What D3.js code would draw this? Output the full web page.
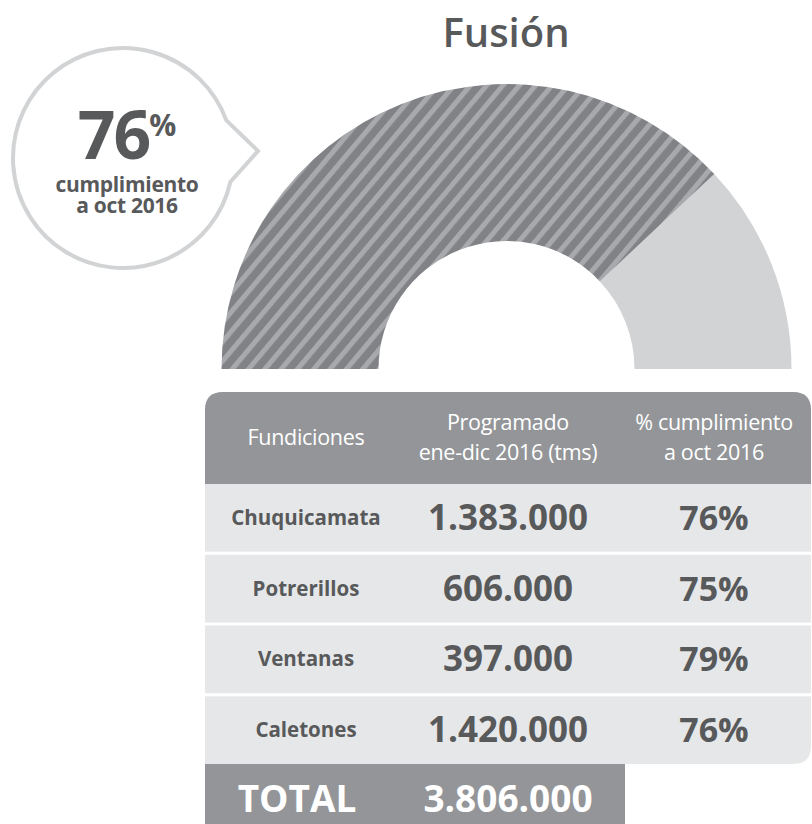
<!DOCTYPE html>
<html>
<head>
<meta charset="utf-8">
<script src="https://cdn.jsdelivr.net/npm/d3@7"></script>
<style>
  body { margin: 0; background: #fff; }
  svg { display: block; font-family: "Open Sans", sans-serif; }
</style>
</head>
<body>
<div id="chart"></div>
<script>

// data
var title = "Fusión";
var avance = 76;                       // % cumplimiento total
var bubbleLines = ["cumplimiento", "a oct 2016"];
var headers = [["Fundiciones"], ["Programado", "ene-dic 2016 (tms)"], ["% cumplimiento", "a oct 2016"]];
var fundiciones = ["Chuquicamata", "Potrerillos", "Ventanas", "Caletones"];
var programado = [1383000, 606000, 397000, 1420000];
var cumplimiento = [76, 75, 79, 76];
var totalLabel = "TOTAL";

var width = 812, height = 824;
var dark = "#58595b";

var locale = d3.formatLocale({decimal: ",", thousands: ".", grouping: [3], currency: ["$", ""]});
var fmt = locale.format(",");

var svg = d3.select("#chart").append("svg")
    .attr("width", width)
    .attr("height", height);

// stripe pattern
var pat = svg.append("defs").append("pattern")
    .attr("id", "stripes")
    .attr("patternUnits", "userSpaceOnUse")
    .attr("width", 12.5).attr("height", 12.5)
    .attr("patternTransform", "rotate(40)");
pat.append("rect").attr("width", 12.5).attr("height", 12.5).attr("fill", "#808285");
pat.append("rect").attr("width", 5).attr("height", 12.5).attr("fill", "#a7a9ac");

// title
svg.append("text")
    .attr("x", 506).attr("y", 47)
    .attr("text-anchor", "middle")
    .style("font-size", "40px")
    .style("font-weight", 600)
    .attr("fill", dark)
    .text(title);

// half donut
var angle = d3.scaleLinear().domain([0, 100]).range([-Math.PI / 2, Math.PI / 2]);
var arc = d3.arc().innerRadius(128).outerRadius(285);
var gauge = svg.append("g").attr("transform", "translate(506.5,369)");

gauge.append("path")
    .attr("d", arc({startAngle: angle(avance), endAngle: angle(100)}))
    .attr("fill", "#d1d3d4");
gauge.append("path")
    .attr("d", arc({startAngle: angle(0), endAngle: angle(avance)}))
    .attr("fill", "url(#stripes)");

// speech bubble
var cx = 123, cy = 158, r = 110;
function pt(deg) {
    var a = deg * Math.PI / 180;
    return [cx + r * Math.cos(a), cy + r * Math.sin(a)];
}
var pTop = pt(-20), pBot = pt(12.6);
var bubble = "M" + pTop + " L258,151 L" + pBot +
    " A" + r + "," + r + " 0 1 1 " + pTop + " Z";
svg.append("path")
    .attr("d", bubble)
    .attr("fill", "#fff")
    .attr("stroke", "#d1d3d4")
    .attr("stroke-width", 4);

var big = svg.append("text")
    .attr("x", 127).attr("y", 159)
    .attr("text-anchor", "middle")
    .attr("fill", dark)
    .style("font-weight", 700);
big.append("tspan").style("font-size", "66px").style("letter-spacing", "-2px").text(avance);
big.append("tspan").style("font-size", "30px").attr("dy", -23).text("%");

svg.selectAll(".bline")
    .data(bubbleLines)
    .enter().append("text")
    .attr("class", "bline")
    .attr("x", 127)
    .attr("y", function(d, i) { return 192 + i * 21; })
    .attr("text-anchor", "middle")
    .attr("fill", dark)
    .style("font-size", "21px")
    .style("font-weight", 700)
    .style("letter-spacing", "-0.3px")
    .text(function(d) { return d; });

// table
var x0 = 205, x1 = 811, tTop = 392, headBottom = 484, tableBottom = 764, rc = 18;

var col = d3.scaleBand().domain([0, 1, 2]).range([x0, x1]);
var row = d3.scaleBand().domain(fundiciones).range([headBottom, tableBottom]).paddingInner(0.043);

// table body background
svg.append("path")
    .attr("d", "M" + x0 + "," + (tTop + rc) + " Q" + x0 + "," + tTop + " " + (x0 + rc) + "," + tTop +
        " L" + (x1 - rc) + "," + tTop + " Q" + x1 + "," + tTop + " " + x1 + "," + (tTop + rc) +
        " L" + x1 + "," + (tableBottom - rc) + " Q" + x1 + "," + tableBottom + " " + (x1 - rc) + "," + tableBottom +
        " L" + x0 + "," + tableBottom + " Z")
    .attr("fill", "#e6e7e8");

// header
svg.append("path")
    .attr("d", "M" + x0 + "," + (tTop + rc) + " Q" + x0 + "," + tTop + " " + (x0 + rc) + "," + tTop +
        " L" + (x1 - rc) + "," + tTop + " Q" + x1 + "," + tTop + " " + x1 + "," + (tTop + rc) +
        " L" + x1 + "," + headBottom + " L" + x0 + "," + headBottom + " Z")
    .attr("fill", "#939598");

// white separators between rows
svg.selectAll(".sep")
    .data(fundiciones.slice(1))
    .enter().append("rect")
    .attr("class", "sep")
    .attr("x", x0).attr("width", x1 - x0)
    .attr("y", function(d) { return row(d) - row.step() * row.paddingInner(); })
    .attr("height", row.step() * row.paddingInner())
    .attr("fill", "#fff");

// header text
headers.forEach(function(lines, i) {
    var mid = (tTop + headBottom) / 2;
    lines.forEach(function(t, j) {
        svg.append("text")
            .attr("x", col(i) + col.bandwidth() / 2 + (i === 2 ? 4 : 0))
            .attr("y", mid + 7 + (j - (lines.length - 1) / 2) * 30)
            .attr("text-anchor", "middle")
            .attr("fill", "#fff")
            .style("font-size", "21.5px")
            .style("font-weight", 500)
            .style("letter-spacing", "-0.3px")
            .text(t);
    });
});

var rows = svg.selectAll(".row")
    .data(fundiciones)
    .enter().append("g")
    .attr("class", "row")
    .attr("transform", function(d) { return "translate(0," + (row(d) + row.bandwidth() / 2) + ")"; });

rows.append("text")
    .attr("x", col(0) + col.bandwidth() / 2)
    .attr("y", 7)
    .attr("text-anchor", "middle")
    .attr("fill", dark)
    .style("font-size", "20.5px")
    .style("font-weight", 700)
    .text(function(d) { return d; });

rows.append("text")
    .attr("x", col(1) + col.bandwidth() / 2)
    .attr("y", 12)
    .attr("text-anchor", "middle")
    .attr("fill", dark)
    .style("font-size", "35px")
    .style("font-weight", 700)
    .text(function(d, i) { return fmt(programado[i]); });

rows.append("text")
    .attr("x", col(2) + col.bandwidth() / 2 + 4)
    .attr("y", 12)
    .attr("text-anchor", "middle")
    .attr("fill", dark)
    .style("font-size", "34px")
    .style("font-weight", 700)
    .text(function(d, i) { return cumplimiento[i] + "%"; });

// total
svg.append("rect")
    .attr("x", x0).attr("y", tableBottom)
    .attr("width", 420).attr("height", height - tableBottom)
    .attr("fill", "#939598");

svg.append("text")
    .attr("x", 297).attr("y", 812)
    .attr("text-anchor", "middle")
    .attr("fill", "#fff")
    .style("font-size", "37px")
    .style("font-weight", 700)
    .text(totalLabel);

svg.append("text")
    .attr("x", col(1) + col.bandwidth() / 2).attr("y", 812)
    .attr("text-anchor", "middle")
    .attr("fill", "#fff")
    .style("font-size", "37px")
    .style("font-weight", 700)
    .text(fmt(d3.sum(programado)));

</script>
</body>
</html>
